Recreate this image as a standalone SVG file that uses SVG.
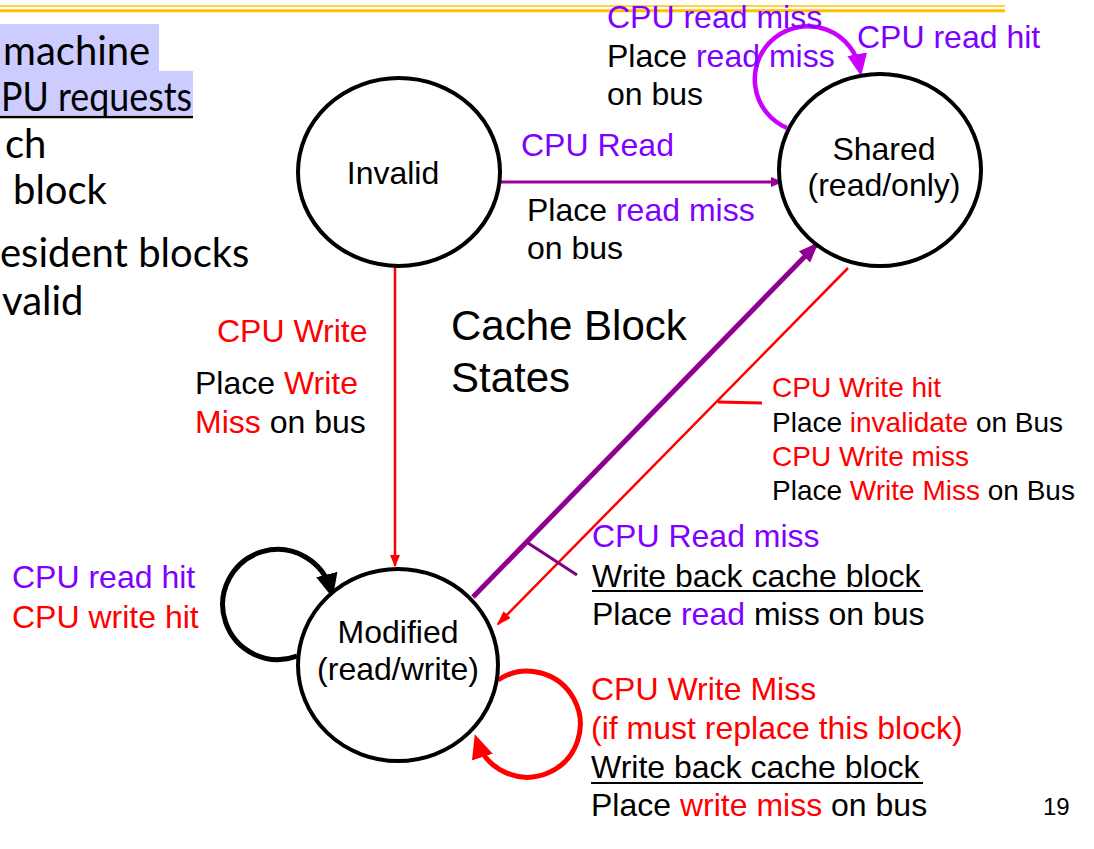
<svg xmlns="http://www.w3.org/2000/svg" width="1094" height="849" viewBox="0 0 1094 849">
<style>
  .t { font-family: "Liberation Sans", Arial, sans-serif; font-size: 32px; fill: #000; }
  .s { font-size: 28px; }
  .node { fill: #fff; stroke: #000; stroke-width: 4; }
  .nl { text-anchor: middle; }
  .red { fill: #ff0000; }
  .pur { fill: #8000ff; }
  .bg { font-family: Lato, "Open Sans", sans-serif; font-size: 40px; fill: #000; }
</style>
<defs>
  <marker id="aPurS" markerUnits="userSpaceOnUse" markerWidth="14" markerHeight="12" refX="11" refY="5" orient="auto"><path d="M0,0 L12,5 L0,10 z" fill="#990099"/></marker>
  <marker id="aRedS" markerUnits="userSpaceOnUse" markerWidth="14" markerHeight="12" refX="11" refY="5" orient="auto"><path d="M0,0 L12,5 L0,10 z" fill="#ff0000"/></marker>
  <marker id="aPurB" markerUnits="userSpaceOnUse" markerWidth="22" markerHeight="18" refX="18" refY="8" orient="auto"><path d="M0,0 L20,8 L0,16 z" fill="#900090"/></marker>
  <marker id="aRedM" markerUnits="userSpaceOnUse" markerWidth="16" markerHeight="12" refX="13" refY="5" orient="auto"><path d="M0,0 L15,5 L0,10 z" fill="#ff0000"/></marker>
  <marker id="aMag" markerUnits="userSpaceOnUse" markerWidth="24" markerHeight="22" refX="16" refY="10" orient="auto"><path d="M0,0 L22,10 L0,20 z" fill="#cc00ff"/></marker>
  <marker id="aBlk" markerUnits="userSpaceOnUse" markerWidth="26" markerHeight="24" refX="17" refY="11" orient="auto"><path d="M0,0 L24,11 L0,22 z" fill="#000"/></marker>
  <marker id="aRedL" markerUnits="userSpaceOnUse" markerWidth="26" markerHeight="24" refX="17" refY="11" orient="auto"><path d="M0,0 L24,11 L0,22 z" fill="#ff0000"/></marker>
</defs>

<g id="background">
  <line x1="0" y1="6" x2="1005" y2="6" stroke="#ffc000" stroke-width="1.5"/>
  <line x1="0" y1="10.8" x2="1005" y2="10.8" stroke="#ffc000" stroke-width="3"/>
  <rect x="0" y="24" width="159" height="47" fill="#ccccff"/>
  <rect x="0" y="71" width="193" height="44" fill="#ccccff"/>
  <line x1="0" y1="117" x2="193" y2="117" stroke="#000" stroke-width="2.5"/>
  <text class="bg" x="3" y="65">machine</text>
  <text class="bg" x="1" y="111" textLength="191" lengthAdjust="spacingAndGlyphs">PU requests</text>
  <text class="bg" x="5" y="158">ch</text>
  <text class="bg" x="13" y="204">block</text>
  <text class="bg" x="0" y="267">esident blocks</text>
  <text class="bg" x="2" y="315">valid</text>
  <text class="t" x="451" y="340" style="font-size:42px">Cache Block</text>
  <text class="t" x="451" y="392" style="font-size:42px">States</text>
  <text class="t" x="1043" y="815" style="font-size:24px">19</text>
</g>

<g id="connectors" fill="none">
  <line x1="500" y1="182" x2="782" y2="182" stroke="#990099" stroke-width="3" marker-end="url(#aPurS)"/>
  <line x1="395" y1="266" x2="395" y2="566" stroke="#ff0000" stroke-width="2.5" marker-end="url(#aRedS)"/>
  <line x1="473" y1="597" x2="817" y2="244" stroke="#900090" stroke-width="5" marker-end="url(#aPurB)"/>
  <line x1="848" y1="268" x2="498" y2="624" stroke="#ff0000" stroke-width="2.5" marker-end="url(#aRedM)"/>
  <line x1="718" y1="402" x2="762" y2="403" stroke="#ff0000" stroke-width="3"/>
  <line x1="528" y1="543" x2="577" y2="575" stroke="#800080" stroke-width="3"/>
  <path d="M787,128 A53,53 0 1 1 860,70" stroke="#cc00ff" stroke-width="4.5" marker-end="url(#aMag)"/>
  <path d="M297,656 A55,55 0 1 1 331,591" stroke="#000" stroke-width="5" marker-end="url(#aBlk)"/>
  <path d="M498,680 A53,53 0 1 1 477,741" stroke="#ff0000" stroke-width="5" marker-end="url(#aRedL)"/>
</g>

<g id="invalid">
  <ellipse class="node" cx="399" cy="172" rx="101" ry="94"/>
  <text class="t nl" x="393" y="184">Invalid</text>
</g>
<g id="shared">
  <ellipse class="node" cx="880" cy="170" rx="101" ry="96"/>
  <text class="t nl" x="884" y="160">Shared</text>
  <text class="t nl" x="884" y="196">(read/only)</text>
</g>
<g id="modified">
  <ellipse class="node" cx="398" cy="665" rx="100" ry="96"/>
  <text class="t nl" x="398" y="643">Modified</text>
  <text class="t nl" x="398" y="680">(read/write)</text>
</g>

<g id="labels">
  <text class="t pur" x="607" y="28">CPU read miss</text>
  <text class="t" x="607" y="67">Place <tspan class="pur">read miss</tspan></text>
  <text class="t" x="607" y="105">on bus</text>
  <text class="t pur" x="857" y="48">CPU read hit</text>

  <text class="t pur" x="521" y="156">CPU Read</text>
  <text class="t" x="527" y="221">Place <tspan class="pur">read miss</tspan></text>
  <text class="t" x="527" y="259">on bus</text>

  <text class="t red" x="217" y="342">CPU Write</text>
  <text class="t" x="195" y="394">Place <tspan class="red">Write</tspan></text>
  <text class="t" x="195" y="433"><tspan class="red">Miss</tspan> on bus</text>

  <text class="t s red" x="772" y="397">CPU Write hit</text>
  <text class="t s" x="772" y="432">Place <tspan class="red">invalidate</tspan> on Bus</text>
  <text class="t s red" x="772" y="466">CPU Write miss</text>
  <text class="t s" x="772" y="500">Place <tspan class="red">Write Miss</tspan> on Bus</text>

  <text class="t pur" x="592" y="547">CPU Read miss</text>
  <text class="t" x="592" y="587">Write back cache block</text>
  <line x1="592" y1="591" x2="923" y2="591" stroke="#000" stroke-width="2"/>
  <text class="t" x="592" y="625">Place <tspan class="pur">read</tspan> miss on bus</text>

  <text class="t pur" x="12" y="588">CPU read hit</text>
  <text class="t red" x="12" y="628">CPU write hit</text>

  <text class="t red" x="591" y="700">CPU Write Miss</text>
  <text class="t red" x="591" y="739">(if must replace this block)</text>
  <text class="t" x="591" y="778">Write back cache block</text>
  <line x1="591" y1="783" x2="923" y2="783" stroke="#000" stroke-width="2"/>
  <text class="t" x="591" y="816">Place <tspan class="red">write miss</tspan> on bus</text>
</g>
</svg>
